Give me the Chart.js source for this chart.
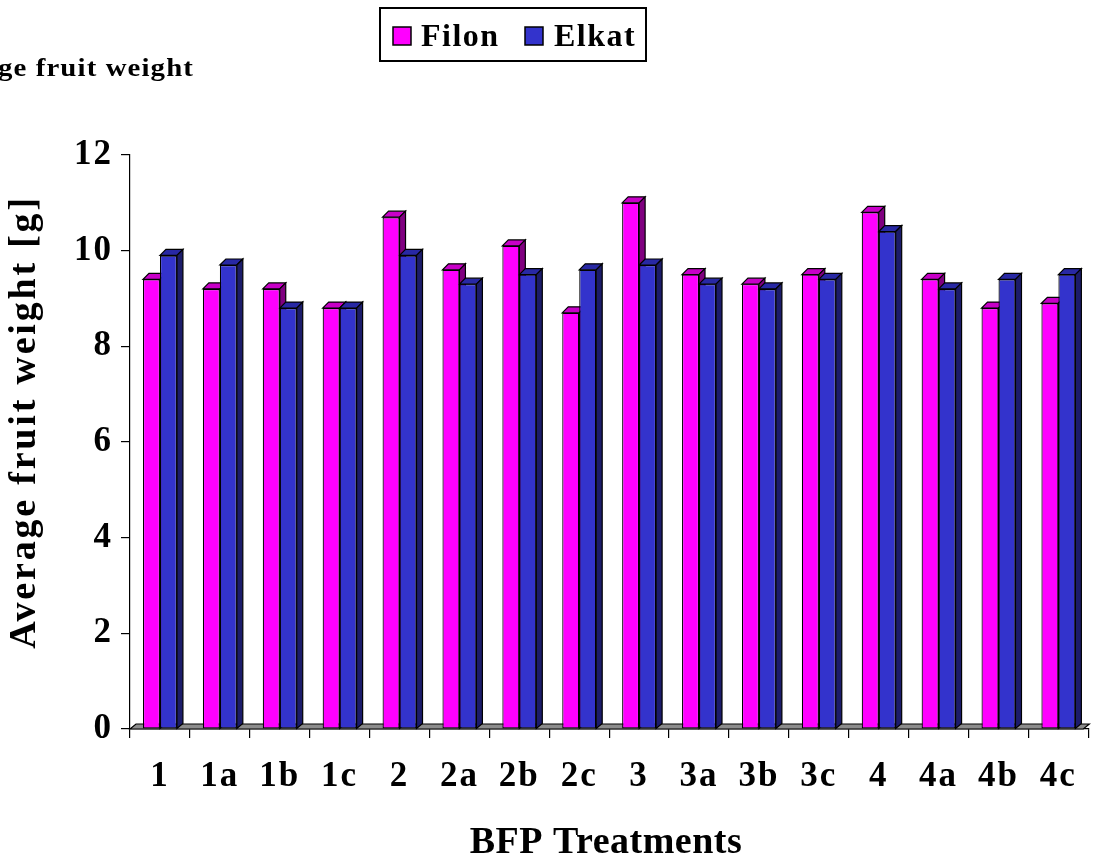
<!DOCTYPE html>
<html>
<head>
<meta charset="utf-8">
<script src="https://cdn.jsdelivr.net/npm/chart.js@4/dist/chart.umd.min.js"></script>
<style>
  html, body { margin: 0; padding: 0; background: #fff; }
  #wrap { width: 1093px; height: 859px; }
</style>
</head>
<body>
<div id="wrap"><canvas id="c" width="1093" height="859"></canvas></div>
<script>
const categories = ['1','1a','1b','1c','2','2a','2b','2c','3','3a','3b','3c','4','4a','4b','4c'];
const filon = [9.4, 9.2, 9.2, 8.8, 10.7, 9.6, 10.1, 8.7, 11.0, 9.5, 9.3, 9.5, 10.8, 9.4, 8.8, 8.9];
const elkat = [9.9, 9.7, 8.8, 8.8, 9.9, 9.3, 9.5, 9.6, 9.7, 9.3, 9.2, 9.4, 10.4, 9.2, 9.4, 9.5];
const seriesNames = ['Filon', 'Elkat'];
const yTicks = [0, 2, 4, 6, 8, 10, 12];
const topLeftTitle = 'Average fruit weight';
const yTitle = 'Average fruit weight [g]';
const xTitle = 'BFP Treatments';

const FONT = '"Liberation Serif", "Times New Roman", serif';
const colors = [
  { front: '#FF00FF', top: '#C800C8', side: '#800080' },
  { front: '#3333CC', top: '#2828A4', side: '#1C1C6A' }
];
const DX = 6, DY = 6;

const threeD = {
  id: 'threeD',
  beforeDraw(chart) {
    chart.ctx.letterSpacing = '2px';
  },
  beforeDatasetsDraw(chart) {
    const ctx = chart.ctx, ca = chart.chartArea;
    ctx.save();
    ctx.lineWidth = 1.2;
    ctx.strokeStyle = '#000';
    // floor
    ctx.beginPath();
    ctx.moveTo(ca.left, ca.bottom);
    ctx.lineTo(ca.left + DX, ca.bottom - DY + 1);
    ctx.lineTo(ca.right + 1, ca.bottom - DY + 1);
    ctx.lineTo(ca.right - DX + 1, ca.bottom);
    ctx.closePath();
    ctx.fillStyle = '#8c8c8c';
    ctx.fill();
    ctx.stroke();
    // bar tops and sides
    chart.data.datasets.forEach((ds, di) => {
      const meta = chart.getDatasetMeta(di);
      const c = colors[di];
      meta.data.forEach(el => {
        const p = el.getProps(['x', 'y', 'base', 'width'], true);
        const l = p.x - p.width / 2, r = p.x + p.width / 2;
        ctx.beginPath();
        ctx.moveTo(l, p.y);
        ctx.lineTo(l + DX, p.y - DY);
        ctx.lineTo(r + DX, p.y - DY);
        ctx.lineTo(r, p.y);
        ctx.closePath();
        ctx.fillStyle = c.top; ctx.fill(); ctx.stroke();
        ctx.beginPath();
        ctx.moveTo(r, p.y);
        ctx.lineTo(r + DX, p.y - DY);
        ctx.lineTo(r + DX, p.base - DY + 1);
        ctx.lineTo(r, p.base);
        ctx.closePath();
        ctx.fillStyle = c.side; ctx.fill(); ctx.stroke();
      });
    });
    ctx.restore();
  },
  afterDraw(chart) {
    const ctx = chart.ctx;
    ctx.save();
    ctx.fillStyle = '#000';
    // top-left title, partly outside the canvas on the left
    ctx.letterSpacing = '1px';
    ctx.font = 'bold 26px ' + FONT;
    ctx.textAlign = 'right';
    ctx.textBaseline = 'alphabetic';
    const visible = ctx.measureText('ge fruit weight').width;
    const sx = 196 / visible;
    ctx.save();
    ctx.translate(194, 76);
    ctx.scale(sx, 1);
    ctx.fillText(topLeftTitle, 0, 0);
    ctx.restore();
    // y axis title
    ctx.save();
    ctx.letterSpacing = '2.8px';
    ctx.font = 'bold 38px ' + FONT;
    ctx.translate(35, 422);
    ctx.rotate(-Math.PI / 2);
    ctx.textAlign = 'center';
    ctx.fillText(yTitle, 0, 0);
    ctx.restore();
    // x axis title
    ctx.letterSpacing = '0.5px';
    ctx.font = 'bold 38px ' + FONT;
    ctx.textAlign = 'center';
    ctx.fillText(xTitle, 606, 853);
    // legend
    const bx = 380, by = 8, bw = 266, bh = 53;
    ctx.lineWidth = 2;
    ctx.strokeStyle = '#000';
    ctx.strokeRect(bx, by, bw, bh);
    ctx.letterSpacing = '1.5px';
    ctx.font = 'bold 32px ' + FONT;
    ctx.textAlign = 'left';
    const sq = [393, 525], tx = [421, 554];
    seriesNames.forEach((name, i) => {
      ctx.fillStyle = colors[i].front;
      ctx.lineWidth = 1.5;
      ctx.fillRect(sq[i], 27, 18, 18);
      ctx.strokeRect(sq[i], 27, 18, 18);
      ctx.fillStyle = '#000';
      ctx.fillText(name, tx[i], 46);
    });
    ctx.restore();
    ctx.letterSpacing = '0px';
  }
};

const chart = new Chart(document.getElementById('c'), {
  type: 'bar',
  data: {
    labels: categories,
    datasets: [
      { label: seriesNames[0], data: filon, backgroundColor: colors[0].front, borderColor: '#000', borderWidth: 1.2, borderSkipped: false },
      { label: seriesNames[1], data: elkat, backgroundColor: colors[1].front, borderColor: '#000', borderWidth: 1.2, borderSkipped: false }
    ]
  },
  options: {
    responsive: false,
    animation: false,
    events: [],
    layout: { padding: { left: 0, right: 3, top: 155, bottom: 0 } },
    plugins: { legend: { display: false }, tooltip: { enabled: false } },
    datasets: { bar: { categoryPercentage: 0.567, barPercentage: 1.0 } },
    scales: {
      x: {
        grid: { drawOnChartArea: false, offset: true, tickLength: 9, color: '#000', lineWidth: 1.2 },
        border: { display: true, color: '#000', width: 1.2 },
        ticks: { font: { family: FONT, size: 35, weight: 'bold' }, color: '#000', padding: 18, maxRotation: 0 },
        afterFit(s) { s.height = 130; }
      },
      y: {
        min: 0, max: 12,
        afterBuildTicks(s) { s.ticks = yTicks.map(v => ({ value: v })); },
        grid: { drawOnChartArea: false, tickLength: 9, color: '#000', lineWidth: 1.2 },
        border: { display: true, color: '#000', width: 1.2 },
        ticks: { font: { family: FONT, size: 35, weight: 'bold' }, color: '#000', padding: 8 },
        afterFit(s) { s.width = 130; }
      }
    }
  },
  plugins: [threeD]
});
</script>
</body>
</html>
